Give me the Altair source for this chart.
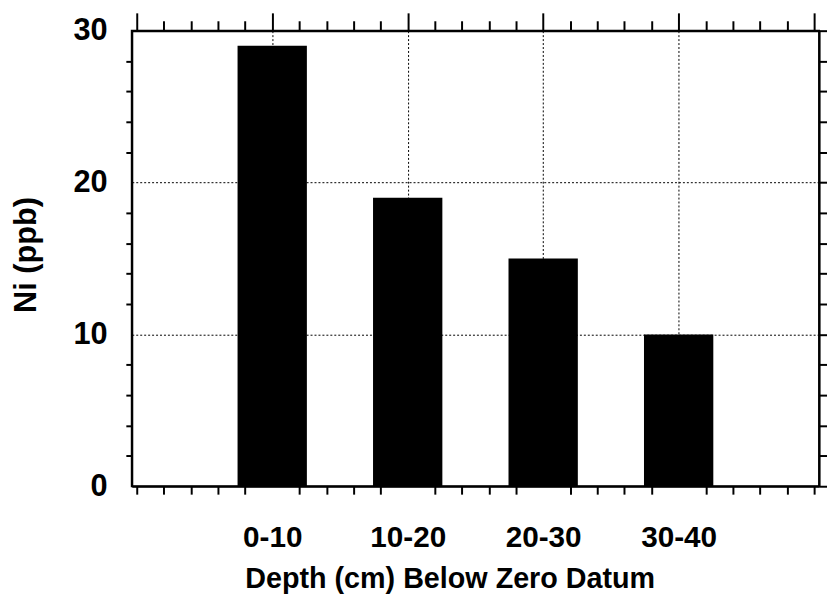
import altair as alt
import pandas as pd

# ---- data ----
categories = ["0-10", "10-20", "20-30", "30-40"]
positions = [1, 2, 3, 4]
ni_ppb = [29, 19, 15, 10]

# axis tick values
x_tick_values = [round(i * 0.2, 1) for i in range(26)]
y_tick_values = list(range(0, 31, 2))

df = pd.DataFrame({"depth": categories, "pos": positions, "ni": ni_ppb})

FONT = "Liberation Sans"

label_expr = ""
for p, c in zip(positions, categories):
    label_expr += f"abs(datum.value - {p}) < 0.01 ? '{c}' : "
label_expr += "''"

x_major = "abs(datum.value - round(datum.value)) < 0.01 && datum.value > 0.5 && datum.value < 4.5"
y_major = "datum.value % 10 == 0"
y_grid = "datum.value == 10 || datum.value == 20"

xscale = alt.Scale(domain=[0, 5], nice=False, zero=False)
yscale = alt.Scale(domain=[0, 30], nice=False)

bars = alt.Chart(df).mark_bar(color="black", size=70).encode(
    x=alt.X(
        "pos:Q",
        scale=xscale,
        axis=alt.Axis(
            orient="bottom",
            values=x_tick_values,
            labelExpr=label_expr,
            labelOverlap=False,
            labelFlush=False,
            labelFont=FONT,
            labelFontSize=30,
            labelFontWeight="bold",
            labelColor="black",
            labelPadding=29,
            tickSize=8,
            tickWidth=2,
            tickColor="black",
            tickOpacity={"condition": {"test": x_major, "value": 0}, "value": 1},
            grid=True,
            gridColor="black",
            gridDash=[2, 2],
            gridWidth=1,
            gridOpacity={"condition": {"test": x_major, "value": 1}, "value": 0},
            domain=True,
            domainColor="black",
            domainWidth=2,
            title="Depth (cm) Below Zero Datum",
            titleFont=FONT,
            titleFontSize=29,
            titleFontWeight="bold",
            titleColor="black",
            titleX=321,
            titleY=102,
            titleAlign="center",
            titleBaseline="alphabetic",
        ),
    ),
    y=alt.Y(
        "ni:Q",
        scale=yscale,
        axis=alt.Axis(
            orient="left",
            values=y_tick_values,
            labelExpr=f"{y_major} ? datum.label : ''",
            labelOverlap=False,
            labelFlush=False,
            labelFont=FONT,
            labelFontSize=31,
            labelFontWeight="bold",
            labelColor="black",
            labelPadding=19,
            tickSize=6,
            tickWidth=2,
            tickColor="black",
            tickOpacity={"condition": {"test": y_major, "value": 0}, "value": 1},
            grid=True,
            gridColor="black",
            gridDash=[2, 2],
            gridWidth=1,
            gridOpacity={"condition": {"test": y_grid, "value": 1}, "value": 0},
            domain=True,
            domainColor="black",
            domainWidth=2,
            title="Ni (ppb)",
            titleFont=FONT,
            titleFontSize=31,
            titleFontWeight="bold",
            titleColor="black",
            titleAngle=270,
            titleX=-97,
            titleY=226,
            titleAlign="center",
            titleBaseline="alphabetic",
        ),
    ),
)

frame = alt.Chart(df).mark_point(opacity=0).encode(
    x=alt.X(
        "pos:Q",
        scale=xscale,
        axis=alt.Axis(
            orient="top",
            values=x_tick_values,
            labels=False,
            title=None,
            grid=False,
            tickSize={"condition": {"test": "abs(datum.value - round(datum.value)) < 0.01", "value": 18}, "value": 10},
            tickWidth=2,
            tickColor="black",
            domain=True,
            domainColor="black",
            domainWidth=2,
        ),
    ),
    y=alt.Y(
        "ni:Q",
        scale=yscale,
        axis=alt.Axis(
            orient="right",
            values=y_tick_values,
            labels=False,
            title=None,
            grid=False,
            tickSize=8,
            tickWidth=2,
            tickColor="black",
            domain=True,
            domainColor="black",
            domainWidth=2,
        ),
    ),
)

chart = (
    alt.layer(bars, frame)
    .resolve_axis(x="independent", y="independent")
    .properties(
        width=694,
        height=460,
        autosize=alt.AutoSizeParams(type="none"),
        padding={"left": 125, "top": 20, "right": 8, "bottom": 114},
        background="white",
    )
    .configure_view(stroke="black", strokeWidth=2)
)

chart.save("out.html", embed_options={"renderer": "svg", "actions": False})
